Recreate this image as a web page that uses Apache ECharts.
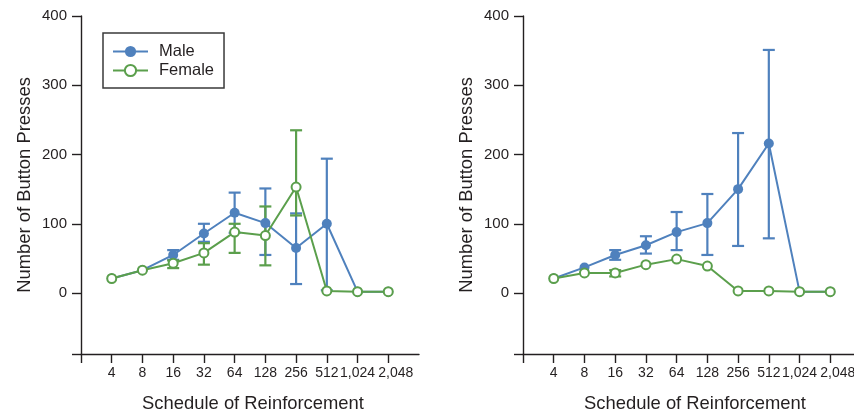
<!DOCTYPE html>
<html>
<head>
<meta charset="utf-8">
<script src="https://cdn.jsdelivr.net/npm/echarts@6/dist/echarts.min.js"></script>
<style>
  html, body { margin: 0; padding: 0; background: #fff; }
  #chart { width: 854px; height: 416px; }
</style>
</head>
<body>
<div id="chart"></div>
<script>
// Categories (schedule of reinforcement)
const schedules = ['4', '8', '16', '32', '64', '128', '256', '512', '1,024', '2,048'];

// Left panel
const maleLeft = [21, 33, 55, 86, 116, 101, 65, 100, 2, 2];
const maleLeftHigh = [null, null, 62, 100, 145, 151, 115, 194, null, null];
const maleLeftLow = [null, null, 48, 74, 87, 55, 13, 4, null, null];
const femaleLeft = [21, 33, 43, 58, 88, 83, 153, 3, 2, 2];
const femaleLeftHigh = [null, null, 47, 72, 100, 125, 235, null, null, null];
const femaleLeftLow = [null, null, 36, 41, 58, 40, 112, null, null, null];

// Right panel
const maleRight = [21, 37, 55, 69, 88, 101, 150, 216, 2, 2];
const maleRightHigh = [null, null, 62, 82, 117, 143, 231, 351, null, null];
const maleRightLow = [null, null, 48, 57, 62, 55, 68, 79, null, null];
const femaleRight = [21, 29, 29, 41, 49, 39, 3, 3, 2, 2];
const femaleRightHigh = [null, null, 33, null, null, null, null, null, null, null];
const femaleRightLow = [null, null, 24, null, null, null, null, null, null, null];

const yTicks = [0, 100, 200, 300, 400];
const yMin = -88;

//--------------------- Styles ---------------------------//
const blue = '#4f81bd';
const green = '#5b9f4c';
const ink = '#231f20';
const tickFont = "'Liberation Sans Narrow', 'Arial Narrow', 'Liberation Sans', sans-serif";
const titleFont = "'Liberation Sans', Arial, sans-serif";

// Axis slots: empty slot at the y axis, the ten schedules, empty slot at the end
const xSlots = [''].concat(schedules, ['']);

let chartDom = document.getElementById('chart');
let chart = echarts.init(chartDom, null, { renderer: 'canvas' });

// [slot index, y] pairs (schedule i sits in slot i + 1)
function toPoints(values) {
  return values.map((v, i) => [i + 1, v]);
}

function toBars(high, low) {
  const out = [];
  high.forEach((h, i) => {
    if (h !== null && low[i] !== null) out.push([i + 1, low[i], h]);
  });
  return out;
}

function errorBars(name, high, low, color, gridIdx) {
  return {
    name: name + ' error',
    type: 'custom',
    xAxisIndex: gridIdx,
    yAxisIndex: gridIdx,
    data: toBars(high, low),
    silent: true,
    renderItem: function (params, api) {
      const x = api.value(0);
      const lo = api.coord([x, api.value(1)]);
      const hi = api.coord([x, api.value(2)]);
      const half = 6;
      const style = { stroke: color, lineWidth: 2.2 };
      return {
        type: 'group',
        children: [
          { type: 'line', shape: { x1: lo[0], y1: lo[1], x2: hi[0], y2: hi[1] }, style: style },
          { type: 'line', shape: { x1: hi[0] - half, y1: hi[1], x2: hi[0] + half, y2: hi[1] }, style: style },
          { type: 'line', shape: { x1: lo[0] - half, y1: lo[1], x2: lo[0] + half, y2: lo[1] }, style: style }
        ]
      };
    }
  };
}

function lineSeries(name, values, color, filled, gridIdx) {
  return {
    name: name,
    type: 'line',
    xAxisIndex: gridIdx,
    yAxisIndex: gridIdx,
    data: toPoints(values),
    symbol: 'circle',
    symbolSize: filled ? 10 : 9,
    showAllSymbol: true,
    color: color,
    lineStyle: { color: color, width: 2 },
    itemStyle: filled
      ? { color: color, borderColor: color, borderWidth: 0 }
      : { color: '#fff', borderColor: color, borderWidth: 2 },
    emphasis: { disabled: true },
    z: filled ? 2 : 3
  };
}

function makeXAxis(gridIdx) {
  return {
    type: 'category',
    gridIndex: gridIdx,
    data: xSlots,
    boundaryGap: false,
    name: 'Schedule of Reinforcement',
    nameLocation: 'middle',
    nameGap: 41,
    nameTextStyle: { fontFamily: titleFont, fontSize: 18.4, color: ink, padding: [0, 0, 0, 6] },
    axisLine: { show: true, onZero: false, lineStyle: { color: ink, width: 1.4 } },
    axisTick: {
      show: true, inside: false, length: 9,
      lineStyle: { color: ink, width: 1.4 },
      interval: (index) => index < xSlots.length - 1
    },
    axisLabel: {
      show: true, margin: 12, interval: 0, hideOverlap: false,
      fontFamily: tickFont, fontSize: 14, color: ink,
      // the last label sits a little right of its tick, as in the original
      formatter: (value, index) => index === schedules.length ? '{last|' + value + '}' : value,
      rich: {
        last: { fontFamily: tickFont, fontSize: 14, color: ink, padding: [0, 0, 0, 15] }
      }
    },
    splitLine: { show: false }
  };
}

function makeYAxis(gridIdx) {
  return {
    type: 'value',
    gridIndex: gridIdx,
    min: yMin,
    max: 400,
    name: 'Number of Button Presses',
    nameLocation: 'middle',
    nameGap: 47,
    nameTextStyle: { fontFamily: titleFont, fontSize: 18.4, color: ink },
    axisLine: { show: true, onZero: false, lineStyle: { color: ink, width: 1.4 } },
    axisTick: {
      show: true, inside: false, length: 9,
      lineStyle: { color: ink, width: 1.4 },
      customValues: [yMin].concat(yTicks)
    },
    axisLabel: {
      show: true, margin: 14, hideOverlap: false,
      fontFamily: tickFont, fontSize: 15, color: ink,
      customValues: yTicks
    },
    splitLine: { show: false }
  };
}

const option = {
  backgroundColor: '#fff',
  animation: false,
  grid: [
    { left: 81, top: 16, width: 338, height: 338, outerBoundsMode: 'none' },
    { left: 523, top: 16, width: 338, height: 338, outerBoundsMode: 'none' }
  ],
  legend: {
    left: 103,
    top: 33,
    orient: 'vertical',
    data: ['Male', 'Female'],
    itemWidth: 35,
    itemHeight: 14,
    itemGap: 2,
    padding: [10, 10, 9, 9],
    borderColor: '#3a3a3a',
    borderWidth: 1.5,
    textStyle: { fontFamily: titleFont, fontSize: 16.5, color: ink, padding: [0, 0, 0, 6] },
    selectedMode: false
  },
  xAxis: [makeXAxis(0), makeXAxis(1)],
  yAxis: [makeYAxis(0), makeYAxis(1)],
  series: [
    errorBars('Male', maleLeftHigh, maleLeftLow, blue, 0),
    lineSeries('Male', maleLeft, blue, true, 0),
    errorBars('Female', femaleLeftHigh, femaleLeftLow, green, 0),
    lineSeries('Female', femaleLeft, green, false, 0),
    errorBars('Male', maleRightHigh, maleRightLow, blue, 1),
    lineSeries('Male', maleRight, blue, true, 1),
    errorBars('Female', femaleRightHigh, femaleRightLow, green, 1),
    lineSeries('Female', femaleRight, green, false, 1)
  ]
};

chart.setOption(option);
</script>
</body>
</html>
